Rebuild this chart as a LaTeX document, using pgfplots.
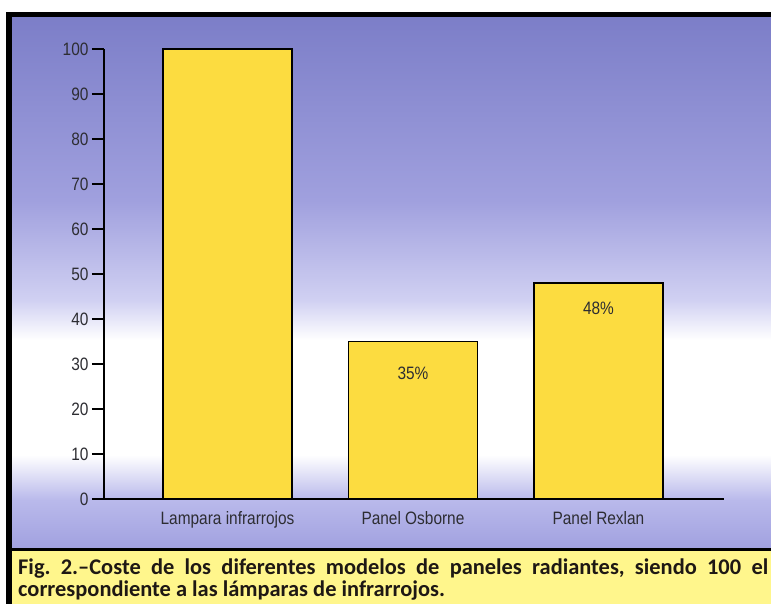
\documentclass[border=0pt]{standalone}
\usepackage{pgfplots}
\pgfplotsset{compat=1.18}
\usepackage{fontspec}
\setmainfont{Liberation Sans}
\newfontfamily\condfont[FakeStretch=0.86]{Liberation Sans}
\newfontfamily\capfont{Carlito}
\definecolor{cA}{RGB}{124,126,200}
\definecolor{cB}{RGB}{160,160,222}
\definecolor{cC}{RGB}{208,208,242}
\definecolor{cD}{RGB}{185,185,235}
\definecolor{cE}{RGB}{162,162,224}
\definecolor{capyellow}{RGB}{255,246,140}
\definecolor{captext}{RGB}{30,24,20}
\definecolor{barcolor}{RGB}{252,220,64}
\definecolor{textgray}{RGB}{45,45,50}
\begin{document}
\begin{tikzpicture}
\fill[white] (0,0) rectangle (771bp,-604bp);
\fill[black] (6bp,-12bp) rectangle (771bp,-604bp);
\shade[top color=cA,bottom color=cB] (12bp,-17bp) rectangle (771bp,-200bp);
\shade[top color=cB,bottom color=cC] (12bp,-200bp) rectangle (771bp,-300bp);
\shade[top color=cC,bottom color=white] (12bp,-300bp) rectangle (771bp,-340bp);
\fill[white] (12bp,-340bp) rectangle (771bp,-455bp);
\shade[top color=white,bottom color=cD] (12bp,-455bp) rectangle (771bp,-500bp);
\shade[top color=cD,bottom color=cE] (12bp,-500bp) rectangle (771bp,-547bp);
\fill[capyellow] (12bp,-551bp) rectangle (771bp,-604bp);
\node[anchor=base west, text width=750bp, align=justify, inner sep=0pt,
  font=\capfont\bfseries\fontsize{22.5}{22.5}\selectfont, text=captext]
  at (18bp,-574bp) {\frenchspacing\hyphenpenalty=10000 Fig. 2.–Coste de los diferentes modelos de paneles radiantes, siendo 100 el\linebreak correspondiente a las lámparas de infrarrojos.};
\begin{axis}[
  at={(104bp,-499bp)}, anchor=south west, scale only axis,
  width=620bp, height=450bp,
  xmin=-0.666, xmax=2.677, ymin=0, ymax=100,
  axis x line*=bottom, axis y line*=left,
  axis line style={line width=1.8bp, black, -},
  ytick={0,10,...,100},
  xtick={0,1,2}, xticklabels={Lampara infrarrojos, Panel Osborne, Panel Rexlan},
  tick align=outside, major tick length=12bp,
  ytick style={line width=1.8bp, black},
  xtick style={draw=none},
  ticklabel style={font=\condfont\fontsize{18}{18}\selectfont, text=textgray},
  xticklabel style={yshift=3bp},
  /pgf/number format/assume math mode=true,
  ybar, bar width=129bp,
  clip=false,
]
\addplot[fill=barcolor, draw=black, line width=1.3bp] coordinates {(0,100) (1,35) (2,48)};
\node[font=\condfont\fontsize{18}{18}\selectfont, text=textgray] at (axis cs:1,28) {35\%};
\node[font=\condfont\fontsize{18}{18}\selectfont, text=textgray] at (axis cs:2,42.4) {48\%};
\end{axis}
\pgfresetboundingbox
\path[use as bounding box] (0,0) rectangle (771bp,-604bp);
\end{tikzpicture}
\end{document}
